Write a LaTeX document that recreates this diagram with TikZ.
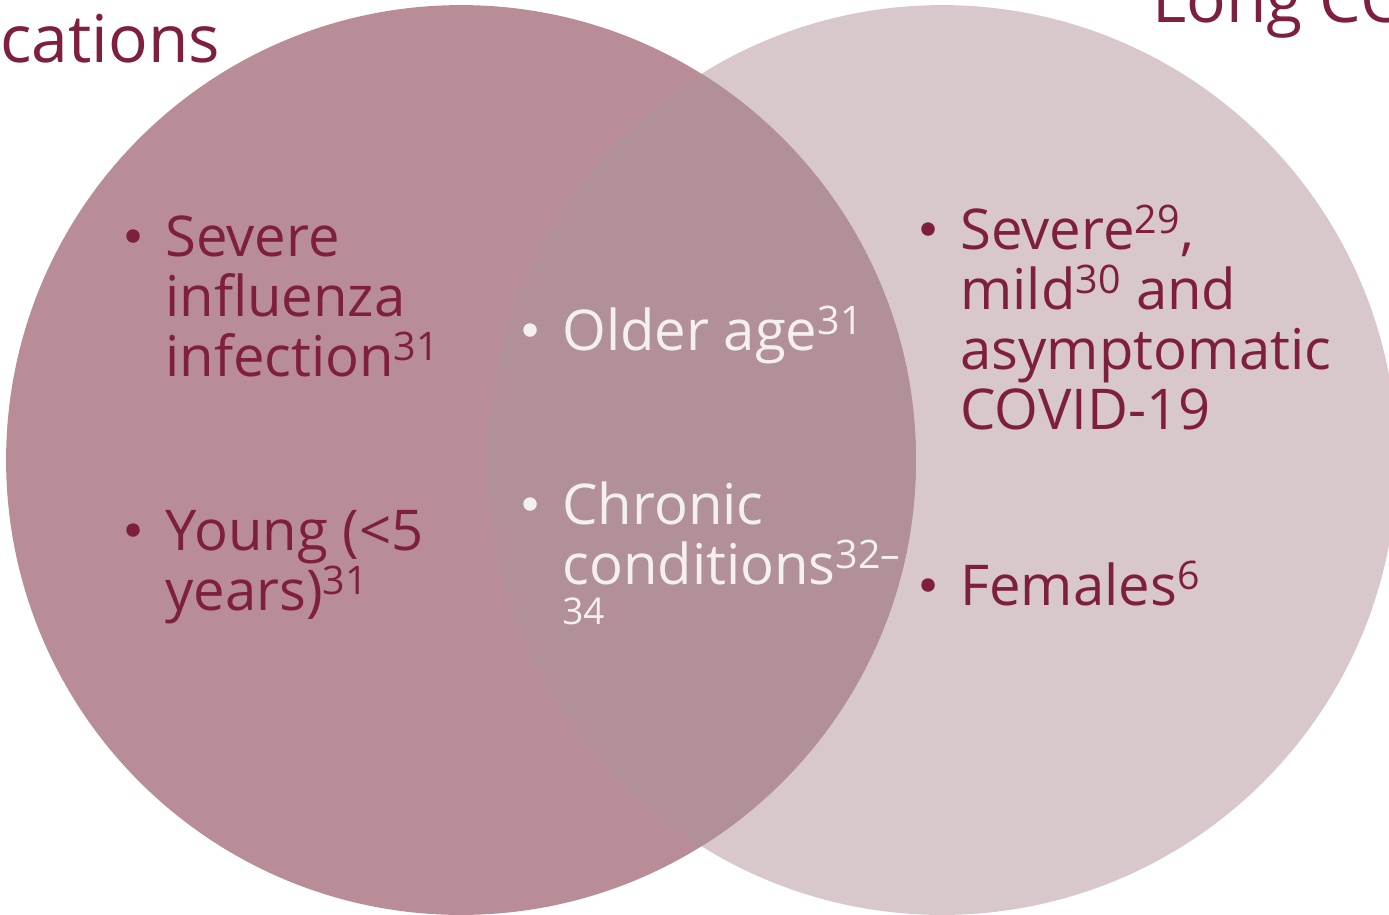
\documentclass[tikz,border=0pt]{standalone}
\usepackage{fontspec}
\setmainfont{Open Sans}
\usepackage{tikz}
\usepackage{xcolor}
\definecolor{wine}{HTML}{7E1F3E}
\definecolor{flu}{HTML}{B88D98}
\definecolor{longcovid}{HTML}{D8C8CC}
\definecolor{both}{HTML}{B19097}
\definecolor{snow}{HTML}{F5F0F0}

\begin{document}
\begin{tikzpicture}[x=0.02cm,y=-0.02cm,
		item/.style={anchor=base west,align=left,inner sep=0pt,text=wine,
			font=\fontsize{32}{34}\selectfont},
		title/.style={item,font=\fontsize{37.5}{40}\selectfont},
		dot/.style={fill=wine}]
	\useasboundingbox (0,0) rectangle (1389,914);
	\clip (0,0) rectangle (1389,914);
	\coordinate (L) at (461,460);
	\coordinate (R) at (942,460);
	%circles
	\fill[longcovid] (R) circle (9.1cm);
	\fill[flu] (L) circle (9.1cm);
	\begin{scope}
		\clip (L) circle (9.1cm);
		\fill[both] (R) circle (9.1cm);
	\end{scope}
	%titles
	\node[title] (flutitle) at (0,62) {cations};
	\node[title] (lctitle) at (1152,22) {Long CO};
	%influenza (nodes sit on their last line)
	\node[item] (sev) at (165,376) {Severe\\influenza\\infection\textsuperscript{31}};
	\node[item] (young) at (165,610) {Young (<5\\years)\textsuperscript{31}};
	%both
	\node[item,text=snow] (older) at (562,350) {Older age\textsuperscript{31}};
	\node[item,text=snow] (chronic) at (562,624) {Chronic\\conditions\textsuperscript{32–}\\[-0.4cm]{\fontsize{21}{22}\selectfont 34}};
	%long covid
	\node[item] (covid) at (960,429) {Severe\textsuperscript{29},\\mild\textsuperscript{30} and\\asymptomatic\\COVID-19};
	\node[item] (fem) at (960,605) {Females\textsuperscript{6}};
	%bullets
	\foreach \n/\up in {sev/2.8,young/1.6,covid/4,fem/0.4}
		\fill[dot] ([xshift=-0.64cm,yshift=\up cm]\n.base west) circle (0.135cm);
	\foreach \n/\up in {older/0.4,chronic/2.4}
		\fill[dot,fill=snow] ([xshift=-0.64cm,yshift=\up cm]\n.base west) circle (0.135cm);
\end{tikzpicture}
\end{document}
